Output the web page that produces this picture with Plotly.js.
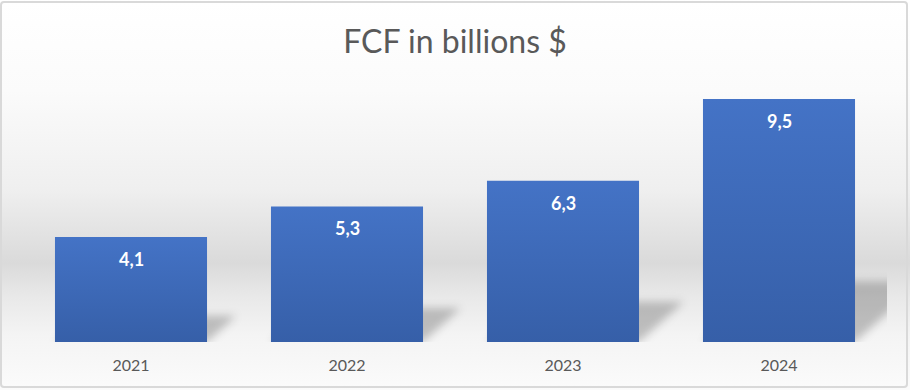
<!DOCTYPE html>
<html>
<head>
<meta charset="utf-8">
<script src="https://cdn.plot.ly/plotly-3.0.1.min.js"></script>
<style>
  html, body { margin: 0; padding: 0; }
  body {
    width: 910px; height: 390px; overflow: hidden; position: relative;
    background: linear-gradient(to bottom, #ffffff 0px, #fbfbfb 90px, #efefef 190px, #dadada 263px, #e8e8e8 295px, #f4f4f4 335px, #fbfbfb 390px);
  }
  #chart { width: 910px; height: 390px; position: absolute; left: 0; top: 0; }
  #frame {
    position: absolute; left: 0; top: 1px; width: 904px; height: 383px;
    border: 2px solid #d9d9d9; border-radius: 4px; pointer-events: none;
  }
  .trace.bars .point path { fill: url(#barGrad) !important; }
  .trace.bars .point path.barshadow {
    fill: #000000 !important; stroke: none !important;
    opacity: 0.22 !important;
  }
</style>
</head>
<body>
<svg width="0" height="0" style="position:absolute">
  <defs>
    <linearGradient id="barGrad" x1="0" y1="0" x2="0" y2="1">
      <stop offset="0" stop-color="#4473c6"/>
      <stop offset="1" stop-color="#365fa8"/>
    </linearGradient>
  </defs>
</svg>
<div id="chart"></div>
<div id="frame"></div>
<script>
const categories = ["2021", "2022", "2023", "2024"];
const fcfValues = [4.1, 5.3, 6.3, 9.5];
const chartTitle = "FCF in billions $";

const labelTexts = fcfValues.map(v => v.toFixed(1).replace('.', ','));

const trace = {
  type: 'bar',
  x: categories,
  y: fcfValues,
  marker: { color: '#3f6bb9' },
  hoverinfo: 'skip'
};

// category axes: annotation x is the category's serial index
const annotations = categories.map((c, i) => ({
  x: i, y: fcfValues[i], xref: 'x', yref: 'y',
  text: '<b>' + labelTexts[i] + '</b>',
  showarrow: false, yanchor: 'middle', yshift: -22,
  font: { family: 'Lato, "Open Sans", sans-serif', size: 18, color: '#ffffff' }
}));

const layout = {
  width: 910, height: 390,
  margin: { l: 23, r: 23, t: 81, b: 48 },
  paper_bgcolor: 'rgba(0,0,0,0)',
  plot_bgcolor: 'rgba(0,0,0,0)',
  bargap: 0.296,
  showlegend: false,
  title: {
    text: chartTitle,
    x: 0.5, xanchor: 'center',
    y: 1 - 42 / 390, yref: 'container', yanchor: 'middle',
    font: { family: 'Lato, "Open Sans", sans-serif', size: 32, color: '#595959' }
  },
  xaxis: {
    type: 'category',
    range: [-0.5, categories.length - 0.5],
    showline: false, showgrid: false, zeroline: false,
    ticks: '', ticklabelstandoff: 12,
    tickfont: { family: 'Lato, "Open Sans", sans-serif', size: 16, color: '#595959' }
  },
  yaxis: {
    range: [0, 10.2],
    visible: false, showgrid: false, zeroline: false
  },
  annotations: annotations
};

const SVGNS = 'http://www.w3.org/2000/svg';

function addShadows(gd) {
  const mainSvg = gd.querySelector('svg.main-svg');
  let defs = mainSvg.querySelector('defs');
  if (!defs) { defs = document.createElementNS(SVGNS, 'defs'); mainSvg.insertBefore(defs, mainSvg.firstChild); }
  const filt = document.createElementNS(SVGNS, 'filter');
  filt.setAttribute('id', 'shadowBlur2');
  filt.setAttribute('x', '-0.5'); filt.setAttribute('y', '-0.5');
  filt.setAttribute('width', '2'); filt.setAttribute('height', '2');
  const blur = document.createElementNS(SVGNS, 'feGaussianBlur');
  blur.setAttribute('stdDeviation', '4');
  filt.appendChild(blur);
  defs.appendChild(filt);

  const paths = gd.querySelectorAll('.trace.bars .point path:not(.barshadow)');
  paths.forEach(p => {
    const bb = p.getBBox();
    const bottom = bb.y + bb.height;
    const g = document.createElementNS(SVGNS, 'g');
    g.setAttribute('filter', 'url(#shadowBlur2)');
    const sh = p.cloneNode(true);
    sh.setAttribute('class', 'barshadow');
    sh.removeAttribute('style');
    sh.setAttribute('transform',
      'translate(0,' + bottom + ') skewX(-48) scale(1,0.25) translate(0,' + (-bottom) + ')');
    g.appendChild(sh);
    p.parentNode.insertBefore(g, p);
  });
}

Plotly.newPlot('chart', [trace], layout, { displayModeBar: false, staticPlot: true })
  .then(gd => addShadows(gd));
</script>
</body>
</html>
